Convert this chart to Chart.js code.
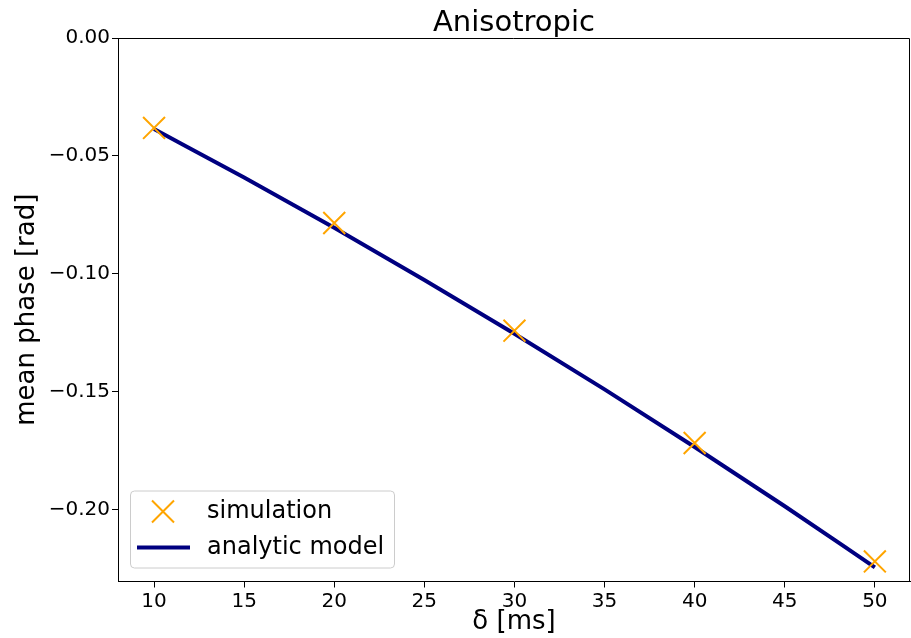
<!DOCTYPE html>
<html>
<head>
<meta charset="utf-8">
<script src="https://cdn.jsdelivr.net/npm/chart.js@4.4.0/dist/chart.umd.min.js"></script>
<style>
  body { margin: 0; background: #fff; }
  canvas { display: block; }
</style>
</head>
<body>
<canvas id="phaseChart" width="911" height="638"></canvas>
<script>
// simulation: delta values (ms) and mean phase (rad)
const simDelta = [10, 20, 30, 40, 50];
const simPhase = [-0.0381, -0.0784, -0.1240, -0.1716, -0.2218];
// analytic model curve
const modelDelta = [10, 15, 20, 25, 30, 35, 40, 45, 50];
const modelPhase = [-0.0386, -0.0591, -0.0804, -0.1025, -0.1253, -0.1489, -0.1733, -0.1984, -0.2243];
const xTicks = [10, 15, 20, 25, 30, 35, 40, 45, 50];
const yTicks = [-0.20, -0.15, -0.10, -0.05, 0.00];

const FONT = "'DejaVu Sans', sans-serif";
const ORANGE = "#FFA500";
const NAVY = "#000080";

// title centred over the axes + top/right frame
const framePlugin = {
  id: "frame",
  afterDraw(chart) {
    const { ctx, chartArea: a } = chart;
    ctx.save();
    ctx.strokeStyle = "#000";
    ctx.lineWidth = 1;
    ctx.beginPath();
    ctx.moveTo(a.left, a.top + 0.5);
    ctx.lineTo(a.right - 0.5, a.top + 0.5);
    ctx.lineTo(a.right - 0.5, a.bottom);
    ctx.stroke();

    ctx.fillStyle = "#000";
    ctx.font = "29px " + FONT;
    ctx.textAlign = "center";
    ctx.textBaseline = "alphabetic";
    ctx.fillText("Anisotropic", (a.left + a.right) / 2, a.top - 7);
    ctx.restore();
  }
};

// legend box inside lower left corner
const legendPlugin = {
  id: "insideLegend",
  afterDraw(chart) {
    const { ctx, chartArea: a } = chart;
    const x = a.left + 12, y = a.bottom - 91, w = 264, h = 77;
    ctx.save();
    ctx.fillStyle = "rgba(255,255,255,0.8)";
    ctx.strokeStyle = "#cccccc";
    ctx.lineWidth = 1;
    ctx.beginPath();
    ctx.roundRect(x + 0.5, y + 0.5, w, h, 4);
    ctx.fill();
    ctx.stroke();

    // simulation marker
    const mx = x + 33, my = y + 21, r = 11;
    ctx.strokeStyle = ORANGE;
    ctx.lineWidth = 2;
    ctx.beginPath();
    ctx.moveTo(mx - r, my - r); ctx.lineTo(mx + r, my + r);
    ctx.moveTo(mx - r, my + r); ctx.lineTo(mx + r, my - r);
    ctx.stroke();

    // model line
    ctx.strokeStyle = NAVY;
    ctx.lineWidth = 4;
    ctx.beginPath();
    ctx.moveTo(x + 7, y + 57); ctx.lineTo(x + 60, y + 57);
    ctx.stroke();

    ctx.fillStyle = "#000";
    ctx.font = "24px " + FONT;
    ctx.textBaseline = "middle";
    ctx.fillText("simulation", x + 77, my);
    ctx.fillText("analytic model", x + 77, y + 57);
    ctx.restore();
  }
};

const ctx = document.getElementById("phaseChart").getContext("2d");
new Chart(ctx, {
  type: "line",
  data: {
    datasets: [
      {
        label: "analytic model",
        data: modelDelta.map((d, i) => ({ x: d, y: modelPhase[i] })),
        borderColor: NAVY,
        borderWidth: 4,
        pointRadius: 0,
        cubicInterpolationMode: "monotone",
        fill: false,
        order: 2
      },
      {
        label: "simulation",
        data: simDelta.map((d, i) => ({ x: d, y: simPhase[i] })),
        showLine: false,
        pointStyle: "crossRot",
        pointRadius: 15.5,
        pointBorderColor: ORANGE,
        pointBorderWidth: 2,
        order: 1
      }
    ]
  },
  options: {
    responsive: false,
    animation: false,
    layout: { autoPadding: false, padding: { left: 0, right: 1, top: 38, bottom: 0 } },
    plugins: {
      legend: { display: false },
      tooltip: { enabled: false },
      title: { display: false }
    },
    scales: {
      x: {
        type: "linear",
        min: 8,
        max: 51.95,
        afterBuildTicks: s => { s.ticks = xTicks.map(v => ({ value: v })); },
        afterFit: s => { s.height = 56.5; s.paddingLeft = 0; s.paddingRight = 0; },
        grid: { drawOnChartArea: false, drawTicks: true, tickLength: 6, color: "#000" },
        border: { color: "#000", width: 1 },
        ticks: {
          color: "#000",
          font: { family: FONT, size: 20 },
          padding: 2,
          maxRotation: 0,
          callback: v => String(v)
        },
        title: {
          display: true,
          text: "δ [ms]",
          color: "#000",
          font: { family: FONT, size: 26 },
          padding: { top: 0, bottom: 0 }
        }
      },
      y: {
        type: "linear",
        min: -0.2303,
        max: 0,
        afterBuildTicks: s => { s.ticks = yTicks.map(v => ({ value: v })); },
        afterFit: s => { s.width = 118; s.paddingTop = 0; s.paddingBottom = 0; },
        grid: { drawOnChartArea: false, drawTicks: true, tickLength: 6, color: "#000" },
        border: { color: "#000", width: 1 },
        ticks: {
          color: "#000",
          font: { family: FONT, size: 20 },
          padding: 2,
          callback: v => v.toFixed(2).replace("-", "\u2212")
        },
        title: {
          display: true,
          text: "mean phase [rad]",
          color: "#000",
          font: { family: FONT, size: 26 },
          padding: { top: 12, bottom: 0 }
        }
      }
    }
  },
  plugins: [framePlugin, legendPlugin]
});
</script>
</body>
</html>
